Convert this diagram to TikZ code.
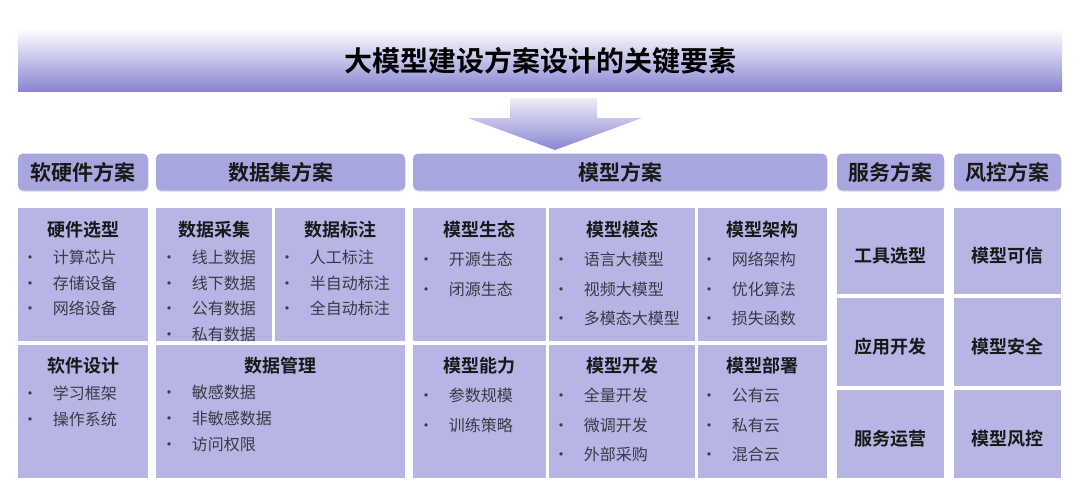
\documentclass[tikz,border=0pt]{standalone}
\usepackage{fontspec}
\setmainfont{Noto Sans CJK SC}[BoldFont={* Bold}]
\usepackage{tikz}
\usetikzlibrary{positioning, shadows}

\definecolor{bandc}{HTML}{8886D2}
\definecolor{headc}{HTML}{A7A6DE}
\definecolor{cellc}{HTML}{B6B5E5}
\definecolor{itemc}{HTML}{3A3A44}
\newcommand\itm{\makebox[31pt][l]{\textbullet}}

\begin{document}
\begin{tikzpicture}[x=1pt, y=-1pt]
\tikzstyle{banner} = [rectangle, minimum width=1044pt, minimum height=61pt,
    inner sep=0pt, font=\fontsize{28}{32}\selectfont\bfseries,
    top color=white!97!bandc, middle color=bandc!80!white, bottom color=bandc]
\tikzstyle{header} = [rectangle, rounded corners=5pt, fill=headc, minimum height=37pt,
    inner sep=0pt, text=black!90, font=\fontsize{21}{25}\selectfont\bfseries,
    drop shadow={opacity=0.2, shadow xshift=0.5pt, shadow yshift=-1.5pt}]
\tikzstyle{cell} = [rectangle, fill=cellc, inner sep=0pt]
\tikzstyle{heading} = [inner sep=0pt, text=black!90, font=\fontsize{18}{22}\selectfont\bfseries]
\tikzstyle{item} = [anchor=base west, inner sep=0pt, text=itemc, font=\fontsize{16}{19}\selectfont]

\useasboundingbox (0,0) rectangle (1080,480);

 % title and arrow
 \node [banner] (title) at (540,60.5) {大模型建设方案设计的关键要素};
 \shade [top color=white!85!bandc, bottom color=bandc]
   (510,98) -- (597,98) -- (597,118) -- (642,118) -- (555,150)
   -- (468,118) -- (510,118) -- cycle;

 % column headers
 \node [header, minimum width=130pt] (hdr1) at (83,172) {软硬件方案};
 \node [header, minimum width=249pt] (hdr2) at (280.5,172) {数据集方案};
 \node [header, minimum width=414pt] (hdr3) at (620,172) {模型方案};
 \node [header, minimum width=107pt] (hdr4) at (890.5,172) {服务方案};
 \node [header, minimum width=107pt] (hdr5) at (1007.5,172) {风控方案};

 % hardware and software
 \node [cell, minimum width=130pt, minimum height=133pt] (hw) at (83,274.5) {};
 \node [cell, minimum width=130pt, minimum height=133pt] (sw) at (83,411.5) {};
 \node [heading] (hwT) at ([yshift=-22pt]hw.north) {硬件选型};
 \foreach \t [count=\i] in {计算芯片,存储设备,网络设备}
   \node [item] (hw-\i) at ([xshift=4pt, yshift={-56-25.5*(\i-1)}]hw.north west) {\itm\t};
 \node [heading] (swT) at ([yshift=-21pt]sw.north) {软件设计};
 \foreach \t [count=\i] in {学习框架,操作系统}
   \node [item] (sw-\i) at ([xshift=4pt, yshift={-55-25.5*(\i-1)}]sw.north west) {\itm\t};

 % dataset
 \node [cell, minimum width=116pt, minimum height=133pt] (dc) at (214,274.5) {};
 \node [cell, minimum width=130pt, minimum height=133pt] (dl) at (340,274.5) {};
 \node [cell, minimum width=249pt, minimum height=133pt] (dm) at (280.5,411.5) {};
 \node [heading] (dcT) at ([yshift=-22pt]dc.north) {数据采集};
 \foreach \t [count=\i] in {线上数据,线下数据,公有数据,私有数据}
   \node [item] (dc-\i) at ([xshift=5pt, yshift={-56-25.5*(\i-1)}]dc.north west) {\itm\t};
 \node [heading] (dlT) at ([yshift=-22pt]dl.north) {数据标注};
 \foreach \t [count=\i] in {人工标注,半自动标注,全自动标注}
   \node [item] (dl-\i) at ([xshift=4pt, yshift={-56-25.5*(\i-1)}]dl.north west) {\itm\t};
 \node [heading] (dmT) at ([yshift=-21pt]dm.north) {数据管理};
 \foreach \t [count=\i] in {敏感数据,非敏感数据,访问权限}
   \node [item] (dm-\i) at ([xshift=5pt, yshift={-54-26*(\i-1)}]dm.north west) {\itm\t};

 % model
 \node [cell, minimum width=133pt, minimum height=133pt] (m1) at (479.5,274.5) {};
 \node [cell, minimum width=146pt, minimum height=133pt] (m2) at (622,274.5) {};
 \node [cell, minimum width=129pt, minimum height=133pt] (m3) at (762.5,274.5) {};
 \node [cell, minimum width=133pt, minimum height=133pt] (m4) at (479.5,411.5) {};
 \node [cell, minimum width=146pt, minimum height=133pt] (m5) at (622,411.5) {};
 \node [cell, minimum width=129pt, minimum height=133pt] (m6) at (762.5,411.5) {};
 \node [heading] (m1T) at ([yshift=-22pt]m1.north) {模型生态};
 \foreach \t [count=\i] in {开源生态,闭源生态}
   \node [item] (m1-\i) at ([xshift=5pt, yshift={-58-29.5*(\i-1)}]m1.north west) {\itm\t};
 \node [heading] (m2T) at ([yshift=-22pt]m2.north) {模型模态};
 \foreach \t [count=\i] in {语言大模型,视频大模型,多模态大模型}
   \node [item] (m2-\i) at ([xshift=4pt, yshift={-58-29.5*(\i-1)}]m2.north west) {\itm\t};
 \node [heading] (m3T) at ([yshift=-22pt]m3.north) {模型架构};
 \foreach \t [count=\i] in {网络架构,优化算法,损失函数}
   \node [item] (m3-\i) at ([xshift=3pt, yshift={-58-29.5*(\i-1)}]m3.north west) {\itm\t};
 \node [heading] (m4T) at ([yshift=-21pt]m4.north) {模型能力};
 \foreach \t [count=\i] in {参数规模,训练策略}
   \node [item] (m4-\i) at ([xshift=5pt, yshift={-57-29.5*(\i-1)}]m4.north west) {\itm\t};
 \node [heading] (m5T) at ([yshift=-21pt]m5.north) {模型开发};
 \foreach \t [count=\i] in {全量开发,微调开发,外部采购}
   \node [item] (m5-\i) at ([xshift=4pt, yshift={-57-29.5*(\i-1)}]m5.north west) {\itm\t};
 \node [heading] (m6T) at ([yshift=-21pt]m6.north) {模型部署};
 \foreach \t [count=\i] in {公有云,私有云,混合云}
   \node [item] (m6-\i) at ([xshift=3pt, yshift={-57-29.5*(\i-1)}]m6.north west) {\itm\t};

 % service and risk control
 \node [cell, minimum width=107pt, minimum height=86pt] (sv1) at (890.5,251) {};
 \node [cell, minimum width=107pt, minimum height=88pt] (sv2) at (890.5,342) {};
 \node [cell, minimum width=107pt, minimum height=88pt] (sv3) at (890.5,434) {};
 \node [cell, minimum width=107pt, minimum height=86pt] (rk1) at (1007.5,251) {};
 \node [cell, minimum width=107pt, minimum height=88pt] (rk2) at (1007.5,342) {};
 \node [cell, minimum width=107pt, minimum height=88pt] (rk3) at (1007.5,434) {};
 \foreach \c/\t in {sv1/工具选型, sv2/应用开发, sv3/服务运营, rk1/模型可信, rk2/模型安全, rk3/模型风控}
   \node [heading] (\c T) at ([yshift=-4.5pt]\c.center) {\t};
\end{tikzpicture}
\end{document}
